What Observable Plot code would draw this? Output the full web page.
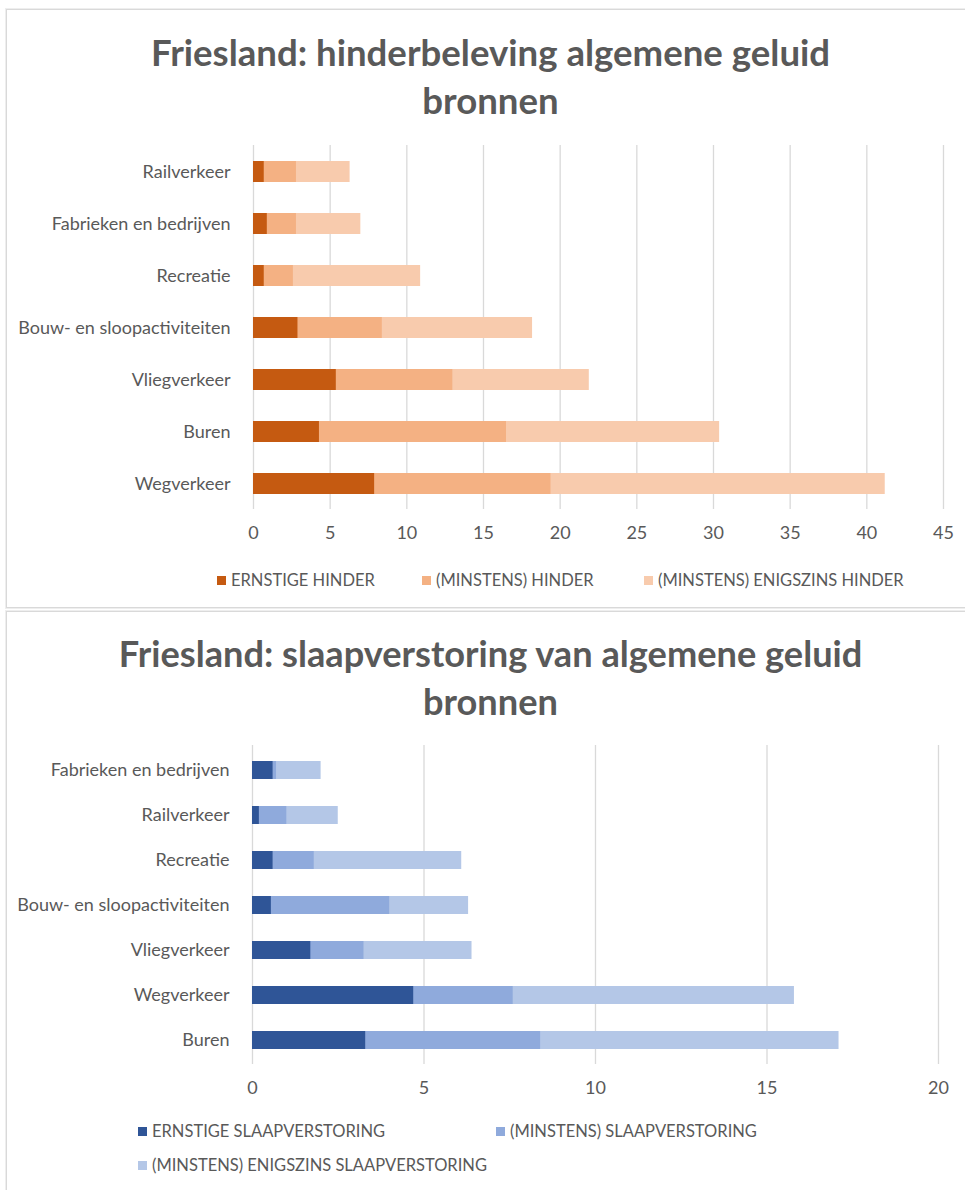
<!DOCTYPE html>
<html>
<head>
<meta charset="utf-8">
<script src="https://cdn.jsdelivr.net/npm/d3@7"></script>
<script src="https://cdn.jsdelivr.net/npm/@observablehq/plot@0.6"></script>
<style>
  html, body { margin: 0; padding: 0; background: #fff; }
  body { width: 965px; height: 1190px; position: relative; overflow: hidden; font-family: Lato, "Open Sans", sans-serif; color: #595959; }
  .panel { position: absolute; border: 1px solid #d9d9d9; box-shadow: 0 0 0 1px #eeeeee; background: #fff; }
  .title { position: absolute; left: 8px; width: 965px; text-align: center; font-weight: bold; font-size: 36.6px; line-height: 48px; color: #595959; }
  .chart { position: absolute; left: 0; }
  .leg { position: absolute; font-size: 16.5px; color: #595959; white-space: nowrap; display: flex; align-items: center; }
  .sw { width: 9px; height: 9px; margin-right: 5px; display: inline-block; }
</style>
</head>
<body>
<div class="panel" style="left:6px; top:9px; width:980px; height:597px;"></div>
<div class="panel" style="left:6px; top:611px; width:980px; height:600px;"></div>

<div class="title" style="top:28px;">Friesland: hinderbeleving algemene geluid<br>bronnen</div>
<div class="chart" id="c1" style="top:136px;"></div>
<div id="leg1"></div>

<div class="title" style="top:629px; font-size:36.2px;">Friesland: slaapverstoring van algemene geluid<br>bronnen</div>
<div class="chart" id="c2" style="top:735px;"></div>
<div id="leg2"></div>

<script>
// ---- Chart 1: hinderbeleving ----
const categories1 = ["Railverkeer", "Fabrieken en bedrijven", "Recreatie", "Bouw- en sloopactiviteiten", "Vliegverkeer", "Buren", "Wegverkeer"];
const ernstigeHinder = [0.7, 0.9, 0.7, 2.9, 5.4, 4.3, 7.9];
const minstensHinder = [2.8, 2.8, 2.6, 8.4, 13.0, 16.5, 19.4];
const enigszinsHinder = [6.3, 7.0, 10.9, 18.2, 21.9, 30.4, 41.2];
const series1 = ["ERNSTIGE HINDER", "(MINSTENS) HINDER", "(MINSTENS) ENIGSZINS HINDER"];
const colors1 = ["#C55A11", "#F4B183", "#F8CBAD"];
const ticks1 = [0, 5, 10, 15, 20, 25, 30, 35, 40, 45];

// ---- Chart 2: slaapverstoring ----
const categories2 = ["Fabrieken en bedrijven", "Railverkeer", "Recreatie", "Bouw- en sloopactiviteiten", "Vliegverkeer", "Wegverkeer", "Buren"];
const ernstigeSlaap = [0.6, 0.2, 0.6, 0.55, 1.7, 4.7, 3.3];
const minstensSlaap = [0.7, 1.0, 1.8, 4.0, 3.25, 7.6, 8.4];
const enigszinsSlaap = [2.0, 2.5, 6.1, 6.3, 6.4, 15.8, 17.1];
const series2 = ["ERNSTIGE SLAAPVERSTORING", "(MINSTENS) SLAAPVERSTORING", "(MINSTENS) ENIGSZINS SLAAPVERSTORING"];
const colors2 = ["#2F5597", "#8FAADC", "#B4C7E7"];
const ticks2 = [0, 5, 10, 15, 20];

function buildRows(cats, arrays, names) {
  const rows = [];
  // draw widest first so nested bars overlap correctly
  for (let s = arrays.length - 1; s >= 0; s--) {
    cats.forEach((c, i) => rows.push({cat: c, series: names[s], value: arrays[s][i]}));
  }
  return rows;
}

function makeChart(cats, arrays, names, colors, ticks, opts) {
  const rows = buildRows(cats, arrays, names);
  return Plot.plot({
    width: 965,
    height: opts.height,
    marginLeft: opts.marginLeft,
    marginRight: opts.marginRight,
    marginTop: opts.marginTop,
    marginBottom: opts.marginBottom,
    style: {fontFamily: "Lato, 'Open Sans', sans-serif", fontSize: "18px", color: "#595959", background: "transparent"},
    x: {domain: [ticks[0], ticks[ticks.length - 1]], ticks: ticks, tickSize: 0, tickPadding: opts.xPad, label: null, grid: false},
    y: {domain: cats, paddingInner: 0.6, paddingOuter: 0.3, tickSize: 0, tickPadding: 23, label: null},
    color: {domain: names, range: colors},
    marks: [
      Plot.ruleX(ticks, {stroke: "#d9d9d9", strokeWidth: 1.3}),
      Plot.barX(rows, {y: "cat", x1: 0, x2: "value", fill: "series"})
    ]
  });
}

document.getElementById("c1").appendChild(makeChart(categories1, [ernstigeHinder, minstensHinder, enigszinsHinder], series1, colors1, ticks1,
  {height: 414, marginLeft: 253, marginRight: 22, marginTop: 9, marginBottom: 41, xPad: 17}));

document.getElementById("c2").appendChild(makeChart(categories2, [ernstigeSlaap, minstensSlaap, enigszinsSlaap], series2, colors2, ticks2,
  {height: 369, marginLeft: 252, marginRight: 27, marginTop: 10, marginBottom: 40, xPad: 17}));

function legend(id, names, colors, positions) {
  const host = document.getElementById(id);
  names.forEach((n, i) => {
    const d = document.createElement("div");
    d.className = "leg";
    d.style.left = positions[i][0] + "px";
    d.style.top = positions[i][1] + "px";
    d.innerHTML = `<span class="sw" style="background:${colors[i]}"></span><span></span>`;
    d.lastChild.textContent = n;
    host.appendChild(d);
  });
}
legend("leg1", series1, colors1, [[217, 570], [422, 570], [644, 570]]);
legend("leg2", series2, colors2, [[138, 1121], [496, 1121], [138, 1155]]);
</script>
</body>
</html>
